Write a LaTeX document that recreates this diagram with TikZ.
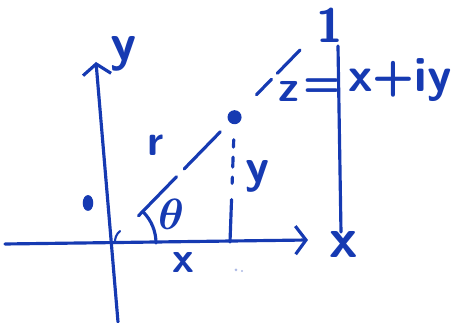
\documentclass[tikz,border=0pt]{standalone}
\usepackage{amsmath}
\usetikzlibrary{arrows.meta,calc,shapes.geometric}
\definecolor{ink}{RGB}{22,58,178}
\begin{document}
\begin{tikzpicture}[x=0.02cm, y=-0.02cm, font=\sffamily\bfseries\Huge, line cap=round,
    pen/.style={draw=ink, line width=1.8pt},
    axis/.style={pen, -{Straight Barb[length=6pt,width=16pt,line width=1.8pt]}},
    lbl/.style={text=ink, inner sep=1pt},
    blob/.style={circle, fill=ink, inner sep=0pt}]
  \useasboundingbox (0,0) rectangle (451,323);
  % axes
  \coordinate (xstart) at (5,244);
  \coordinate (xend)   at (308,240);
  \coordinate (ystart) at (118,322);
  \coordinate (yend)   at (96,62);
  \coordinate (o)      at (112,243);
  \draw[axis] (xstart) -- (xend);
  \draw[axis] (ystart) -- (yend);
  \node[lbl, scale=1.2] (ylab) at (124,54) {y};
  \node[lbl, scale=1.3] (xbig) at (344,244) {x};
  % ray to z, broken
  \coordinate (tip) at (302,48);
  \node[blob, minimum size=8pt] (pt) at ($(o)!0.645!(tip)$) {};
  \foreach \a/\b in {0.14/0.34, 0.38/0.57, 0.76/0.84, 0.87/0.99}
    \draw[pen] ($(o)!\a!(tip)$) -- ($(o)!\b!(tip)$);
  \draw[pen] ([shift={(44,0)}]o) arc[start angle=0, end angle=-45, radius=44];
  \draw[pen, line width=1.2pt] (120,231) to[bend right=25] (115,243);
  % drop to x axis
  \coordinate (foot) at (230,242);
  \foreach \a/\b in {0.18/0.24, 0.32/0.40, 0.48/0.53, 0.66/1}
    \draw[pen] ($(pt)!\a!(foot)$) -- ($(pt)!\b!(foot)$);
  \node[lbl] (rlab)  at (156,145) {r};
  \node[lbl] (thlab) at (171,214) {$\boldsymbol{\theta}$};
  \node[lbl, scale=1.1] (yval)  at (258,176) {y};
  \node[lbl] (xval)  at (183,262) {x};
  % the line at the right
  \coordinate (vtop) at (338,46);
  \coordinate (vbot) at (341,232);
  \draw[pen] (vtop) -- (vbot);
  \node[lbl, scale=1.1] (one)  at (330,25) {1};
  \node[lbl] (zlab) at (289,91) {z};
  \node[lbl] (eq)   at (322,88) {=};
  \node[lbl, scale=1.12] (zval) at (400,80) {x+iy};
  % stray marks
  \node[ellipse, fill=ink, inner sep=0pt, minimum width=6pt, minimum height=9pt] (mark) at (88,203) {};
  \fill[ink!35] (236,270) circle (1.5) (242,271) circle (1.2);
\end{tikzpicture}
\end{document}
